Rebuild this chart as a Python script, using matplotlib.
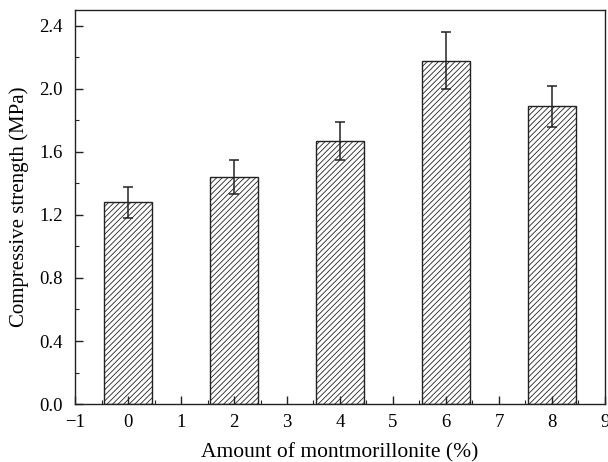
import numpy as np
import matplotlib
matplotlib.use("Agg")
import matplotlib.pyplot as plt
from matplotlib.ticker import MultipleLocator

# montmorillonite dosage (%) vs compressive strength (MPa)
dosage = [0, 2, 4, 6, 8]
strength = [1.28, 1.44, 1.67, 2.18, 1.89]
strength_err = [0.10, 0.11, 0.12, 0.18, 0.13]

plt.rcParams["font.family"] = ["Liberation Serif", "DejaVu Serif"]
plt.rcParams["hatch.linewidth"] = 0.6
plt.rcParams["hatch.color"] = "#333333"

fig = plt.figure(figsize=(6.08, 4.62), dpi=100)
ax = fig.add_axes([0.1234, 0.1255, 0.8716, 0.8525])

ax.bar(dosage, strength, width=0.9, yerr=strength_err, capsize=3.5,
       color="white", edgecolor="#222222", linewidth=1.0, hatch="//////",
       error_kw=dict(elinewidth=1.1, capthick=1.1, ecolor="#222222"))

ax.set_xlim(-1, 9)
ax.set_ylim(0, 2.5)
ax.xaxis.set_major_locator(MultipleLocator(1))
ax.xaxis.set_minor_locator(MultipleLocator(0.5))
ax.yaxis.set_major_locator(MultipleLocator(0.4))
ax.yaxis.set_minor_locator(MultipleLocator(0.2))
ax.yaxis.set_major_formatter(plt.FuncFormatter(lambda v, p: f"{v:.1f}"))
ax.xaxis.set_major_formatter(plt.FuncFormatter(lambda v, p: f"{v:.0f}".replace("-", "\u2212")))

ax.tick_params(which="both", direction="in", top=False, right=False, labelsize=13.5, color="#222222")
ax.tick_params(which="major", length=6, width=1.0)
ax.tick_params(axis="x", which="major", pad=7)
ax.tick_params(axis="y", which="major", pad=9)
ax.tick_params(which="minor", length=3, width=0.8)
for sp in ax.spines.values():
    sp.set_linewidth(1.0)
    sp.set_color("#222222")

ax.set_xlabel("Amount of montmorillonite (%)", fontsize=15.5, labelpad=9)
ax.set_ylabel("Compressive strength (MPa)", fontsize=15, labelpad=7)

fig.savefig("out.png", dpi=100)
